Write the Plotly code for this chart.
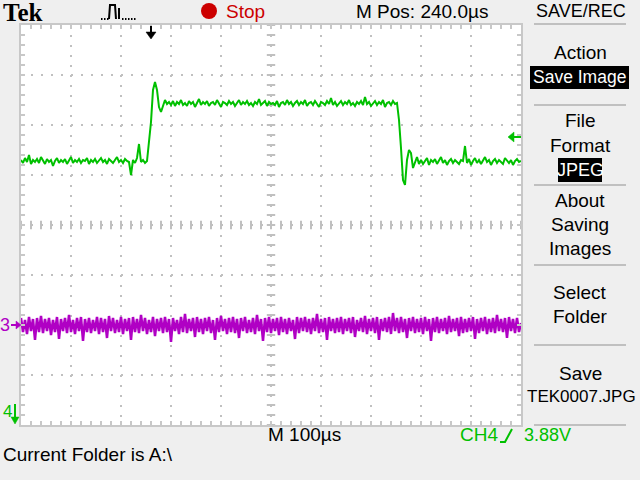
import numpy as np
import plotly.graph_objects as go

# ---------------- data (time in µs relative to screen centre, level in divisions) -------------
time_us = np.arange(-500, 501, 4)

ch4_green = [
    1.30, 1.24, 1.34, 1.26, 1.40, 1.22, 1.30, 1.26, 1.32, 1.24,
    1.36, 1.28, 1.22, 1.32, 1.26, 1.30, 1.18, 1.28, 1.34, 1.24,
    1.30, 1.26, 1.32, 1.22, 1.28, 1.36, 1.24, 1.30, 1.26, 1.32,
    1.24, 1.30, 1.28, 1.34, 1.22, 1.30, 1.26, 1.32, 1.24, 1.28,
    1.34, 1.26, 1.30, 1.22, 1.32, 1.28, 1.24, 1.30, 1.36, 1.26,
    1.30, 1.24, 1.32, 1.28, 1.26, 1.00, 1.30, 1.24, 1.34, 1.62,
    1.26, 1.30, 1.24, 1.28,
    1.62, 2.06, 2.70, 2.86, 2.70, 2.36, 2.26, 2.40, 2.50, 2.42,
    2.46, 2.40, 2.48, 2.38, 2.46, 2.42, 2.50, 2.40, 2.44, 2.38,
    2.48, 2.42, 2.46, 2.36, 2.44, 2.52, 2.40, 2.46, 2.42, 2.48,
    2.38, 2.44, 2.46, 2.40, 2.50, 2.42, 2.36, 2.46, 2.44, 2.40,
    2.48, 2.42, 2.46, 2.38, 2.44, 2.50, 2.40, 2.46, 2.42, 2.48,
    2.40, 2.44, 2.38, 2.46, 2.42, 2.52, 2.40, 2.44, 2.48, 2.38,
    2.46, 2.42, 2.44, 2.40, 2.48, 2.36, 2.44, 2.46, 2.40, 2.50,
    2.42, 2.46, 2.38, 2.44, 2.48, 2.40, 2.46, 2.42, 2.50, 2.38,
    2.44, 2.46, 2.40, 2.48, 2.42, 2.36, 2.46, 2.44, 2.40, 2.48,
    2.42, 2.54, 2.40, 2.46, 2.38, 2.44, 2.48, 2.40, 2.46, 2.42,
    2.50, 2.40, 2.44, 2.38, 2.46, 2.42, 2.48, 2.40, 2.56, 2.42,
    2.46, 2.38, 2.44, 2.48, 2.40, 2.46, 2.42, 2.50, 2.36, 2.44,
    2.46, 2.40, 2.48, 2.42, 2.44,
    2.10, 1.54, 0.90, 0.80, 1.30, 1.50, 1.44, 1.14, 1.26, 1.36, 1.22,
    1.30, 1.22, 1.28, 1.34, 1.20, 1.30, 1.26, 1.32, 1.22, 1.28,
    1.36, 1.24, 1.30, 1.20, 1.28, 1.32, 1.24, 1.30, 1.26, 1.22,
    1.30, 1.28, 1.58, 1.24, 1.32, 1.20, 1.28, 1.34, 1.24, 1.30,
    1.22, 1.28, 1.36, 1.26, 1.30, 1.20, 1.28, 1.32, 1.24, 1.30,
    1.26, 1.22, 1.34, 1.28, 1.24, 1.30, 1.20, 1.28, 1.32, 1.26,
    1.28,
]

ch3_purple = [
    -1.86, -2.14, -1.90, -2.18, -1.84, -2.12, -1.88, -2.30, -1.86, -2.14,
    -1.82, -2.16, -1.88, -2.12, -1.86, -2.20, -1.90, -2.14, -1.84, -2.28,
    -1.88, -2.12, -1.86, -2.16, -1.80, -2.14, -1.90, -2.18, -1.86, -2.12,
    -1.84, -2.32, -1.88, -2.14, -1.86, -2.16, -1.90, -2.12, -1.84, -2.18,
    -1.86, -2.14, -1.88, -2.26, -1.82, -2.12, -1.86, -2.16, -1.90, -2.14,
    -1.84, -2.18, -1.88, -2.12, -1.86, -2.30, -1.84, -2.14, -1.88, -2.16,
    -1.80, -2.12, -1.86, -2.18, -1.90, -2.14, -1.84, -2.22, -1.88, -2.12,
    -1.86, -2.16, -1.84, -2.14, -1.88, -2.34, -1.86, -2.12, -1.90, -2.18,
    -1.84, -2.14, -1.78, -2.16, -1.88, -2.12, -1.86, -2.24, -1.84, -2.14,
    -1.88, -2.18, -1.86, -2.12, -1.84, -2.16, -1.90, -2.30, -1.86, -2.14,
    -1.82, -2.12, -1.88, -2.18, -1.86, -2.14, -1.84, -2.16, -1.88, -2.26,
    -1.86, -2.12, -1.84, -2.16, -1.90, -2.14, -1.86, -2.18, -1.80, -2.12,
    -1.88, -2.32, -1.86, -2.14, -1.84, -2.16, -1.88, -2.12, -1.86, -2.20,
    -1.84, -2.14, -1.88, -2.18, -1.86, -2.12, -1.90, -2.28, -1.84, -2.16,
    -1.86, -2.12, -1.84, -2.14, -1.88, -2.18, -1.86, -2.12, -1.78, -2.16,
    -1.88, -2.14, -1.86, -2.30, -1.84, -2.12, -1.88, -2.16, -1.86, -2.14,
    -1.84, -2.18, -1.88, -2.12, -1.86, -2.16, -1.84, -2.24, -1.90, -2.12,
    -1.86, -2.14, -1.82, -2.18, -1.88, -2.12, -1.86, -2.16, -1.84, -2.30,
    -1.88, -2.12, -1.86, -2.14, -1.84, -2.18, -1.76, -2.12, -1.86, -2.16,
    -1.84, -2.14, -1.88, -2.26, -1.86, -2.12, -1.84, -2.16, -1.88, -2.14,
    -1.86, -2.18, -1.84, -2.12, -1.88, -2.32, -1.86, -2.14, -1.84, -2.16,
    -1.88, -2.12, -1.86, -2.18, -1.82, -2.14, -1.88, -2.12, -1.86, -2.22,
    -1.84, -2.16, -1.88, -2.14, -1.86, -2.12, -1.84, -2.28, -1.88, -2.16,
    -1.86, -2.12, -1.84, -2.18, -1.88, -2.14, -1.86, -2.16, -1.80, -2.12,
    -1.88, -2.14, -1.86, -2.26, -1.84, -2.12, -1.88, -2.16, -1.86, -2.14,
    -1.96,
]

menu_labels = ["Action", "File", "Format", "About", "Saving", "Images",
               "Select", "Folder", "Save"]
menu_rows = [52, 120, 145, 200, 224, 248, 292, 316, 373]

# ---------------- styling ----------------
GREEN = "#00c000"
PURPLE = "#b000c4"
GRID = "#c0c0c0"
FONT = "Liberation Sans, Arial, sans-serif"

L, T, W, H = 21, 25, 500, 400


def PX(x):
    return (x - L) / W


def PY(y):
    return (T + H - y) / H


fig = go.Figure()

# centre cross-hair tick marks (graticule decoration)
fig.add_trace(go.Scatter(
    x=np.arange(-500, 501, 20), y=np.zeros(51), mode="markers",
    marker=dict(symbol="line-ns", size=6, line=dict(color=GRID, width=2)),
    hoverinfo="skip", showlegend=False))
fig.add_trace(go.Scatter(
    x=np.zeros(41), y=np.arange(-4, 4.01, 0.2), mode="markers",
    marker=dict(symbol="line-ew", size=6, line=dict(color=GRID, width=2)),
    hoverinfo="skip", showlegend=False))

fig.add_trace(go.Scatter(x=time_us, y=ch3_purple, mode="lines",
                         line=dict(color=PURPLE, width=2.5),
                         hoverinfo="skip", showlegend=False))
fig.add_trace(go.Scatter(x=time_us, y=ch4_green, mode="lines",
                         line=dict(color=GREEN, width=2),
                         hoverinfo="skip", showlegend=False))

axis_common = dict(
    showgrid=True, gridcolor=GRID, gridwidth=2, griddash="2px,8px",
    showline=True, linecolor="#c8c8c8", linewidth=2, mirror="ticks",
    ticks="inside", ticklen=4, tickwidth=2, tickcolor="#c8c8c8",
    showticklabels=False, zeroline=False, fixedrange=True,
)
fig.update_xaxes(range=[-500, 500], dtick=100, tick0=0,
                 minor=dict(dtick=20, ticks="inside", ticklen=4, tickwidth=2,
                            tickcolor="#c8c8c8", showgrid=False),
                 **axis_common)
fig.update_yaxes(range=[-4, 4], dtick=1, tick0=0,
                 minor=dict(dtick=0.2, ticks="inside", ticklen=4, tickwidth=2,
                            tickcolor="#c8c8c8", showgrid=False),
                 **axis_common)

shapes = []


def line(x0, y0, x1, y1, color, width=2):
    shapes.append(dict(type="line", xref="paper", yref="paper",
                       x0=PX(x0), y0=PY(y0), x1=PX(x1), y1=PY(y1),
                       line=dict(color=color, width=width)))


def poly(points, color, fill=True, width=2):
    p = "M " + " L ".join(f"{PX(a):.5f},{PY(b):.5f}" for a, b in points)
    if fill:
        p += " Z"
    shapes.append(dict(type="path", xref="paper", yref="paper", path=p,
                       fillcolor=color if fill else "rgba(0,0,0,0)",
                       line=dict(color=color, width=width if not fill else 0.5)))


def rect(x0, y0, x1, y1, color):
    shapes.append(dict(type="rect", xref="paper", yref="paper",
                       x0=PX(x0), y0=PY(y0), x1=PX(x1), y1=PY(y1),
                       fillcolor=color, line=dict(width=0)))


# menu separators
for ys in [24, 105, 185, 265, 345, 425]:
    line(534, ys, 626, ys, GRID, 2)

# black highlight boxes
rect(530, 66, 629, 89, "black")
rect(558, 158, 602, 182, "black")

# red stop dot
shapes.append(dict(type="circle", xref="paper", yref="paper",
                   x0=PX(201), x1=PX(217), y0=PY(19), y1=PY(3),
                   fillcolor="#cc0000", line=dict(width=0)))

# pulse icon
poly([(109, 19), (110, 5), (115, 5), (116, 19)], "black", fill=False, width=2)
line(119, 8, 119, 19, "black", 2)
for xd in [101, 104, 107, 122, 125, 128, 131, 134]:
    rect(xd, 18, xd + 1.5, 20, "black")

# trigger position marker (top)
line(151, 26, 151, 33, "black", 2)
poly([(146, 32), (156, 32), (151, 39)], "black")

# trigger level marker (right)
poly([(508, 137), (514, 132), (514, 142)], GREEN)
line(513, 137, 521, 137, GREEN, 2)

# channel 3 marker
line(11, 325, 17, 325, PURPLE, 2)
poly([(16, 321), (16, 329), (21, 325)], PURPLE)

# channel 4 marker
line(15, 404, 15, 418, GREEN, 2)
poly([(11, 417), (19, 417), (15, 424)], GREEN)

# slope symbol in trigger readout
poly([(500, 442), (505, 442), (512, 429)], GREEN, fill=False, width=2)

annotations = []


def txt(s, x, y, size=19, color="black", anchor="center", family=FONT):
    annotations.append(dict(text=s, x=PX(x), y=PY(y), xref="paper", yref="paper",
                            showarrow=False, xanchor=anchor, yanchor="middle",
                            font=dict(family=family, size=size, color=color)))


txt("<b>Tek</b>", 1, 12, size=25, anchor="left", family="Liberation Serif, serif")
txt("Stop", 224, 11, color="#cc0000", anchor="left")
txt("M Pos: 240.0µs", 422, 11)
txt("SAVE/REC", 581, 11, size=18)
for lab, yy in zip(menu_labels, menu_rows):
    txt(lab, 580, yy)
txt("TEK0007.JPG", 581, 396, size=17)
txt("Save Image", 579, 77, size=17.5, color="white")
txt("JPEG", 580, 170, size=18, color="white")
txt("M 100µs", 266, 435, anchor="left")
txt("CH4", 458, 435, color=GREEN, anchor="left")
txt("3.88V", 522, 435, size=18, color=GREEN, anchor="left")
txt("Current Folder is A:\\", 1, 454, anchor="left")
txt("3", 5, 325, size=18, color=PURPLE)
txt("4", 7, 411, size=17, color=GREEN)

fig.update_layout(
    width=640, height=480,
    margin=dict(l=L, r=640 - L - W, t=T, b=480 - T - H, pad=0),
    paper_bgcolor="#efefef", plot_bgcolor="white",
    shapes=shapes, annotations=annotations,
    hovermode=False, showlegend=False,
)

fig.write_html("out.html",
               config={"displayModeBar": False, "staticPlot": True},
               post_script="document.body.style.margin='0';document.body.style.padding='0';"
                           "document.body.style.overflow='hidden';")
